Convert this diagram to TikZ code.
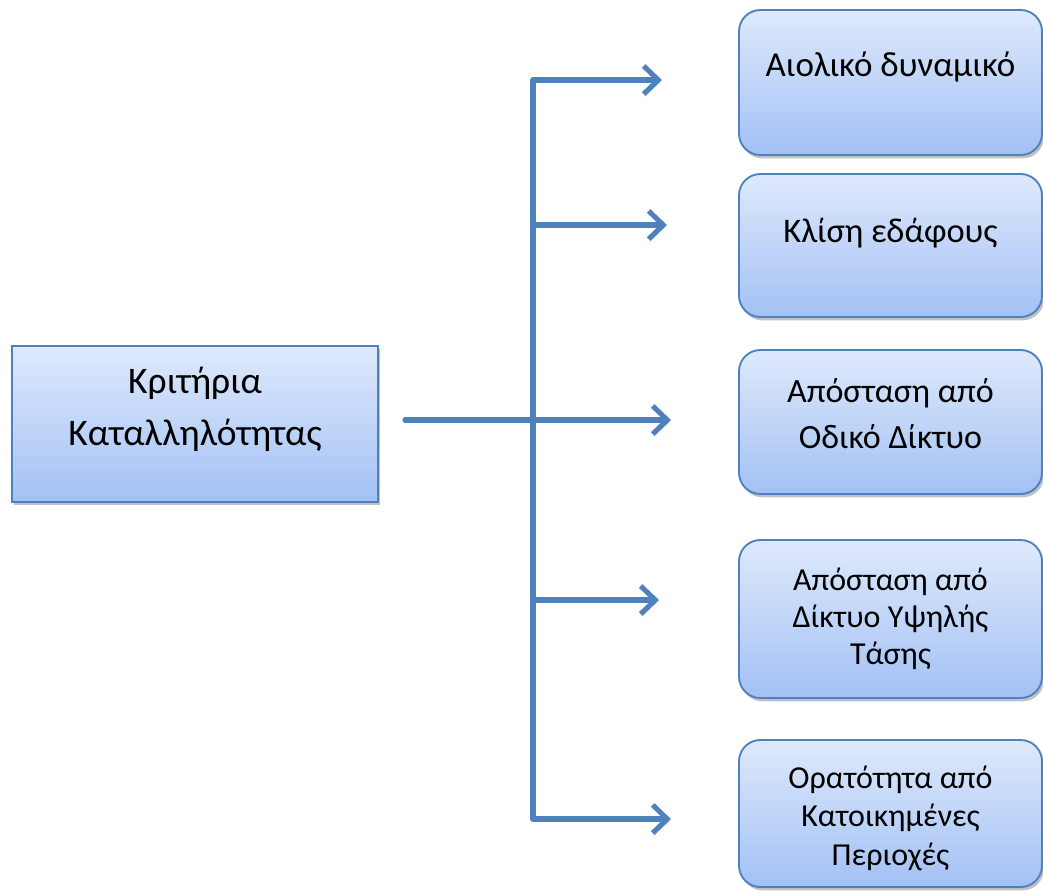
\documentclass[tikz,border=0pt]{standalone}
\usepackage{fontspec}
\setmainfont{Carlito}
\usetikzlibrary{arrows.meta,shadows}
\newlength\pxu \setlength\pxu{0.75pt}
\definecolor{bord}{RGB}{79,129,189}
\definecolor{ftop}{RGB}{222,233,251}
\definecolor{fbot}{RGB}{163,193,245}
\newcommand\bxt[6]{\begin{minipage}[t][#2\pxu][t]{#1\pxu}\centering\fontsize{#4\pxu}{#5\pxu}\selectfont\rule{0pt}{#3\pxu}#6\end{minipage}}
\begin{document}
\begin{tikzpicture}[x=0.75pt,y=-0.75pt,
  boxbase/.style={draw=bord, top color=ftop, bottom color=fbot, inner sep=0pt,
    drop shadow={shadow xshift=1.5pt, shadow yshift=-2.5pt, opacity=0.35, fill=black!70}},
  sqbox/.style={boxbase, line width=1.1pt},
  rbox/.style={boxbase, line width=1.4pt, rounded corners=16pt},
  conn/.style={draw=bord, line width=3.8pt, line join=round, line cap=round,
    preaction={draw=black, opacity=0.15, transform canvas={shift={(1pt,-2pt)}}}},
  tip/.style={-{Straight Barb[length=11pt,width=21pt]}}
]
\useasboundingbox (0,0) rectangle (1043,896);
% left box
\node[sqbox] (crit) at (195,424) {\bxt{366}{156}{47}{37.5}{52}{Κριτήρια\\Καταλληλότητας}};
% right boxes
\node[rbox] (b1) at (890.5,82.5) {\bxt{303}{145}{66}{35}{46}{Αιολικό δυναμικό}};
\node[rbox] (b2) at (890.5,245.5) {\bxt{303}{143}{68}{34.5}{46}{Κλίση εδάφους}};
\node[rbox] (b3) at (890.5,422) {\bxt{303}{144}{52}{34}{46}{Απόσταση από\\Οδικό Δίκτυο}};
\node[rbox] (b4) at (890.5,619) {\bxt{303}{158}{50}{32}{37}{Απόσταση από\\Δίκτυο Υψηλής\\Τάσης}};
\node[rbox] (b5) at (890.5,813.5) {\bxt{303}{147}{48}{32}{38.5}{Ορατότητα από\\Κατοικημένες\\Περιοχές}};
% connector points
\coordinate (j1) at (533,80);
\coordinate (j2) at (533,225);
\coordinate (j4) at (533,600);
\coordinate (j5) at (533,819);
\coordinate (s) at (405,420);
\coordinate (t1) at (662,80);
\coordinate (t2) at (667,225);
\coordinate (t3) at (671,420);
\coordinate (t4) at (659,600);
\coordinate (t5) at (671,819);
% connectors
\draw[conn,{Straight Barb[length=11pt,width=21pt]}-{Straight Barb[length=11pt,width=21pt]}] (t1) -- (j1) -- (j5) -- (t5);
\draw[conn,tip] (j2) -- (t2);
\draw[conn,tip] (s) -- (t3);
\draw[conn,tip] (j4) -- (t4);
\end{tikzpicture}
\end{document}
